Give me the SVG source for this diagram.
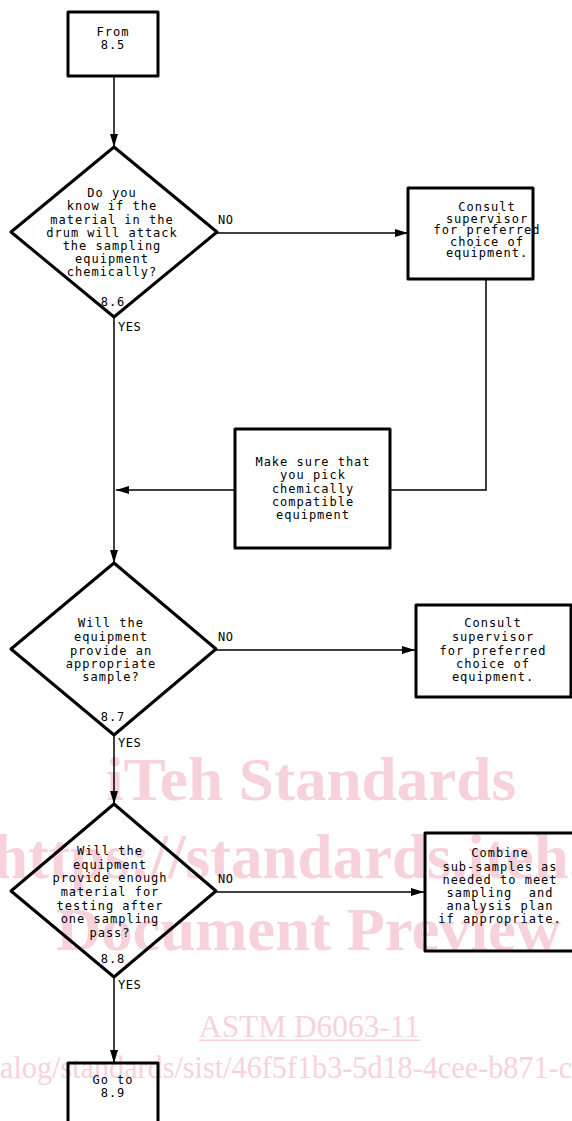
<svg xmlns="http://www.w3.org/2000/svg" width="572" height="1121" viewBox="0 0 572 1121">
<style>
.bg{fill:#ffffff}
.wm{fill:#f8d2db;font-family:"Liberation Serif","Times New Roman",serif}
.wmb{font-weight:bold;font-size:62px}
.wmr{font-size:31px}
.node{fill:none;stroke:#000;stroke-width:3;stroke-linejoin:round}
.edge{fill:none;stroke:#000;stroke-width:1.5}
.t{font-family:"DejaVu Sans Mono","Liberation Mono",monospace;font-size:12px;letter-spacing:1px;fill:#000;text-anchor:middle}
.lbl{font-family:"DejaVu Sans Mono","Liberation Mono",monospace;font-size:12px;letter-spacing:0.5px;fill:#000}
</style>
<defs>
<marker id="arr" markerUnits="userSpaceOnUse" markerWidth="13" markerHeight="10" viewBox="0 0 13 10" refX="13" refY="5" orient="auto">
<path d="M0,1 L13,5 L0,9 Z" fill="#000"/>
</marker>
</defs>
<rect class="bg" x="0" y="0" width="572" height="1121"/>
<g id="watermark">
<text class="wm wmb" x="106" y="800" textLength="410" lengthAdjust="spacingAndGlyphs">iTeh Standards</text>
<text class="wm wmb" x="-28" y="878" style="font-size:63px">(https://standards.iteh.ai)</text>
<text class="wm wmb" x="56" y="950" textLength="505" lengthAdjust="spacingAndGlyphs">Document Preview</text>
<text class="wm wmr" x="199" y="1037" textLength="221" lengthAdjust="spacingAndGlyphs">ASTM D6063-11</text>
<rect x="199" y="1039.5" width="221" height="1.5" fill="#f8d2db"/>
<text class="wm wmr" x="0" y="1078" textLength="572" lengthAdjust="spacingAndGlyphs">alog/standards/sist/46f5f1b3-5d18-4cee-b871-c</text>
</g>
<g id="connectors">
<path class="edge" d="M114,76 V147" marker-end="url(#arr)"/>
<path class="edge" d="M217,233 H408" marker-end="url(#arr)"/>
<path class="edge" d="M486,279 V490 H390"/>
<path class="edge" d="M235,490 H116" marker-end="url(#arr)"/>
<path class="edge" d="M114,317 V563" marker-end="url(#arr)"/>
<path class="edge" d="M216,650 H415" marker-end="url(#arr)"/>
<path class="edge" d="M114,735 V804" marker-end="url(#arr)"/>
<path class="edge" d="M216,892 H424" marker-end="url(#arr)"/>
<path class="edge" d="M114,977 V1063" marker-end="url(#arr)"/>
</g>
<g id="from85">
<rect class="node" x="68" y="12" width="90" height="64"/>
<text class="t" x="113" y="36">From</text>
<text class="t" x="113" y="49">8.5</text>
</g>
<g id="d86">
<polygon class="node" points="114,147 217,232 114,317 11,232"/>
<text class="t" x="112" y="197">Do you</text>
<text class="t" x="112" y="210">know if the</text>
<text class="t" x="112" y="223.5">material in the</text>
<text class="t" x="112" y="236.5">drum will attack</text>
<text class="t" x="112" y="249.5">the sampling</text>
<text class="t" x="112" y="262.5">equipment</text>
<text class="t" x="112" y="276">chemically?</text>
<text class="t" x="113" y="306">8.6</text>
<text class="lbl" x="218" y="224">NO</text>
<text class="lbl" x="118" y="331">YES</text>
</g>
<g id="consult1">
<rect class="node" x="408" y="188" width="125" height="91"/>
<text class="t" x="487" y="211">Consult</text>
<text class="t" x="487" y="222.5">supervisor</text>
<text class="t" x="487" y="234">for preferred</text>
<text class="t" x="487" y="245.5">choice of</text>
<text class="t" x="487" y="257">equipment.</text>
</g>
<g id="makesure">
<rect class="node" x="235" y="429" width="155" height="119"/>
<text class="t" x="313" y="466">Make sure that</text>
<text class="t" x="313" y="479">you pick</text>
<text class="t" x="313" y="493">chemically</text>
<text class="t" x="313" y="506">compatible</text>
<text class="t" x="313" y="519">equipment</text>
</g>
<g id="d87">
<polygon class="node" points="114,563 216,649 114,735 11,649"/>
<text class="t" x="111" y="627">Will the</text>
<text class="t" x="111" y="641">equipment</text>
<text class="t" x="111" y="655">provide an</text>
<text class="t" x="111" y="668">appropriate</text>
<text class="t" x="111" y="681">sample?</text>
<text class="t" x="113" y="721">8.7</text>
<text class="lbl" x="218" y="641">NO</text>
<text class="lbl" x="118" y="747">YES</text>
</g>
<g id="consult2">
<rect class="node" x="416" y="605" width="155" height="92"/>
<text class="t" x="493" y="627">Consult</text>
<text class="t" x="493" y="641">supervisor</text>
<text class="t" x="493" y="655">for preferred</text>
<text class="t" x="493" y="668">choice of</text>
<text class="t" x="493" y="681">equipment.</text>
</g>
<g id="d88">
<polygon class="node" points="114,804 216,891 114,977 11,891"/>
<text class="t" x="110" y="855">Will the</text>
<text class="t" x="110" y="869">equipment</text>
<text class="t" x="110" y="882">provide enough</text>
<text class="t" x="110" y="896">material for</text>
<text class="t" x="110" y="910">testing after</text>
<text class="t" x="110" y="923">one sampling</text>
<text class="t" x="110" y="937">pass?</text>
<text class="t" x="113" y="963">8.8</text>
<text class="lbl" x="218" y="883">NO</text>
<text class="lbl" x="118" y="989">YES</text>
</g>
<g id="combine">
<rect class="node" x="425" y="833" width="152" height="118"/>
<text class="t" x="500" y="857">Combine</text>
<text class="t" x="500" y="871">sub-samples as</text>
<text class="t" x="500" y="884">needed to meet</text>
<text class="t" x="500" y="897" style="white-space:pre">sampling  and</text>
<text class="t" x="500" y="910">analysis plan</text>
<text class="t" x="500" y="923">if appropriate.</text>
</g>
<g id="goto89">
<rect class="node" x="68" y="1063" width="90" height="80"/>
<text class="t" x="113" y="1084">Go to</text>
<text class="t" x="113" y="1097">8.9</text>
</g>
</svg>
